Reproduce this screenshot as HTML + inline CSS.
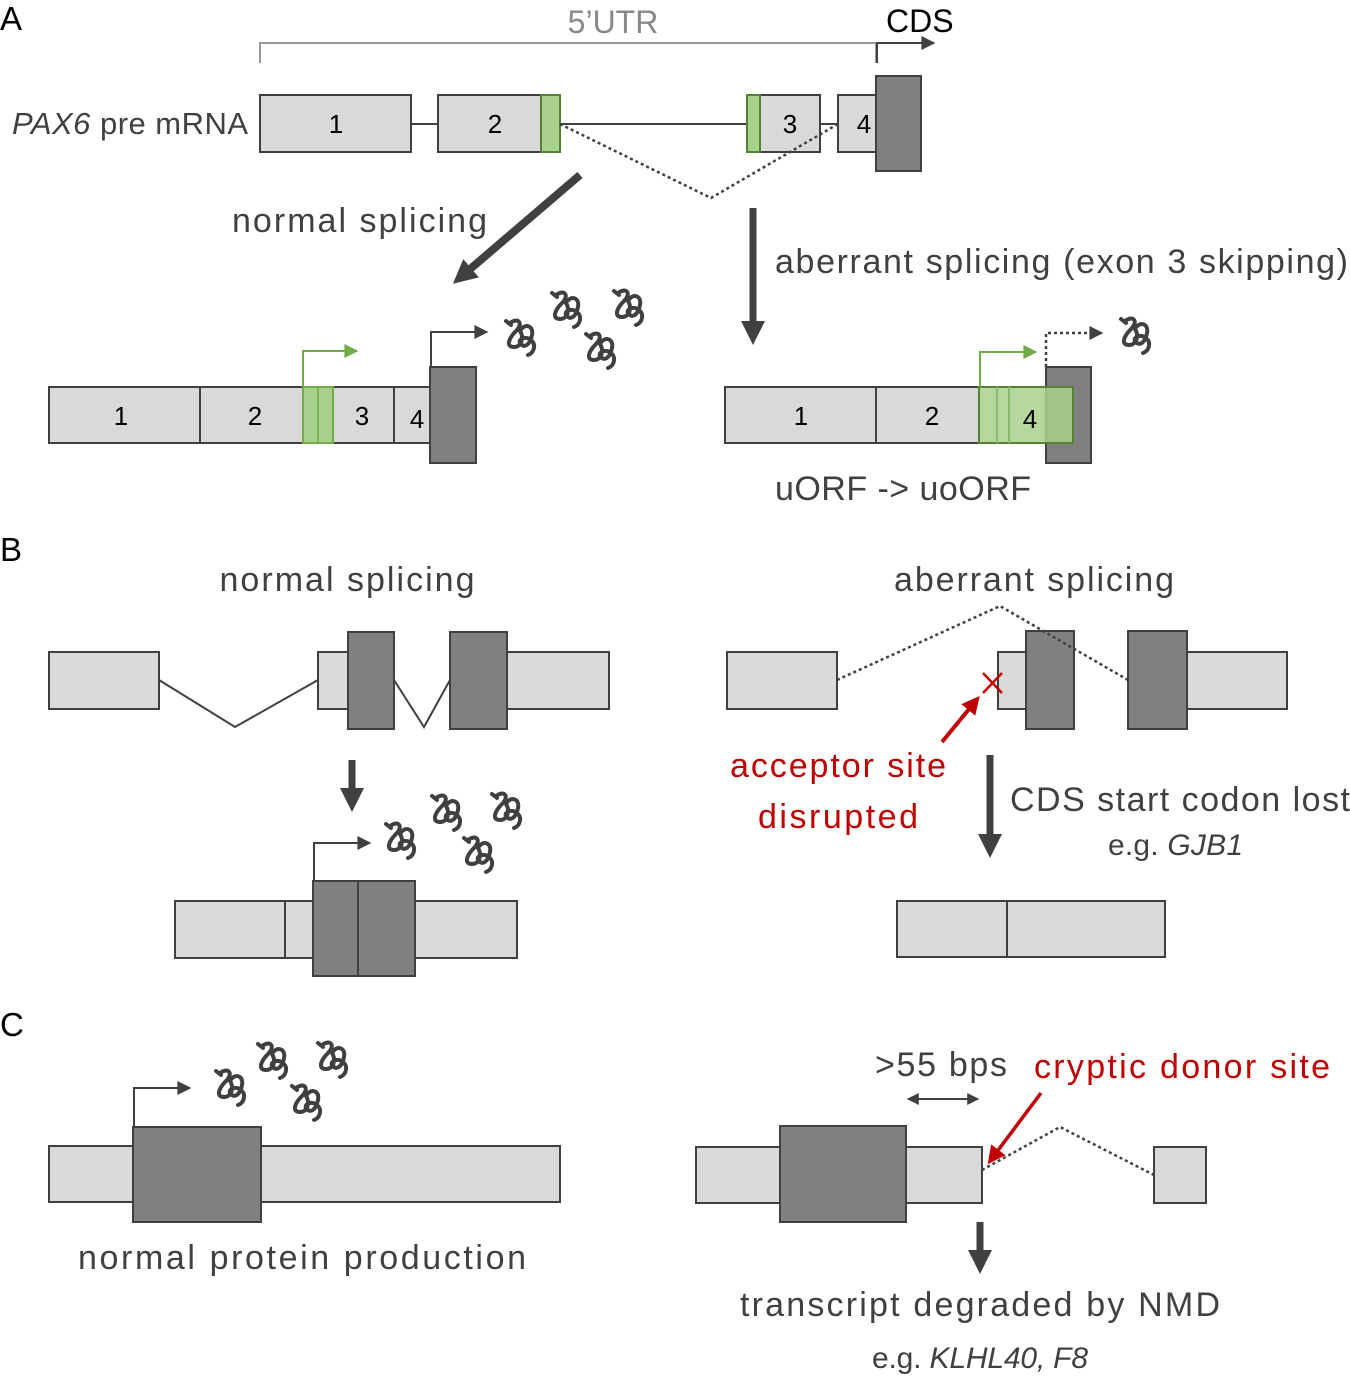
<!DOCTYPE html>
<html><head><meta charset="utf-8"><style>
html,body{margin:0;padding:0;background:#fff;}
svg text{font-family:"Liberation Sans",sans-serif;}
</style></head><body>
<svg width="1350" height="1375" viewBox="0 0 1350 1375" xmlns="http://www.w3.org/2000/svg">
<defs>
<marker id="ahk" viewBox="0 0 10 10" markerWidth="16" markerHeight="14" refX="9" refY="5" orient="auto" markerUnits="userSpaceOnUse"><path d="M0,0 L10,5 L0,10 z" fill="#404040"/></marker>
<marker id="ahg" viewBox="0 0 10 10" markerWidth="16" markerHeight="14" refX="9" refY="5" orient="auto" markerUnits="userSpaceOnUse"><path d="M0,0 L10,5 L0,10 z" fill="#70ad47"/></marker>
<marker id="ahb" viewBox="0 0 10 10" markerWidth="24" markerHeight="26" refX="5" refY="5" orient="auto" markerUnits="userSpaceOnUse"><path d="M0,0 L10,5 L0,10 z" fill="#404040"/></marker>
<marker id="ahr" viewBox="0 0 10 10" markerWidth="18" markerHeight="18" refX="5" refY="5" orient="auto" markerUnits="userSpaceOnUse"><path d="M0,0 L10,5 L0,10 z" fill="#c00000"/></marker>
<marker id="ahs" viewBox="0 0 10 10" markerWidth="12" markerHeight="12" refX="9" refY="5" orient="auto-start-reverse" markerUnits="userSpaceOnUse"><path d="M0,0 L10,5 L0,10 z" fill="#404040"/></marker>
<g id="p" fill="none" stroke="#404040" stroke-width="4" stroke-linecap="round" stroke-linejoin="round">
<path d="M-16,-14 l5,4 M-12,-12 c8,-6 14,0 6,8 c-8,8 -10,16 -2,16 c8,0 10,-10 6,-16 c4,-8 14,-6 12,4 c-2,10 -8,14 -12,8 c-2,-4 6,-8 12,-2 c4,4 2,12 -4,14"/>
</g>
</defs>
<g font-size="33" fill="#000">
<text x="0" y="30">A</text>
<text x="0" y="561">B</text>
<text x="0" y="1036">C</text>
</g>
<path d="M260,63 V43 H876 V63" fill="none" stroke="#999" stroke-width="2"/>
<text x="613" y="33" font-size="32" fill="#888" text-anchor="middle">5’UTR</text>
<text x="886" y="32" font-size="32" fill="#000">CDS</text>
<path d="M877,63 V43 H934" fill="none" stroke="#404040" stroke-width="2" marker-end="url(#ahk)"/>
<text x="248" y="134" font-size="31" fill="#404040" text-anchor="end" textLength="236"><tspan font-style="italic">PAX6</tspan> pre mRNA</text>
<g stroke="#404040" stroke-width="2" fill="#d9d9d9">
<line x1="411" y1="124" x2="438" y2="124"/>
<line x1="560" y1="124" x2="747" y2="124"/>
<line x1="820" y1="124" x2="838" y2="124"/>
<rect x="260" y="95" width="151" height="57"/>
<rect x="438" y="95" width="122" height="57"/>
<rect x="747" y="95" width="73" height="57"/>
<rect x="838" y="95" width="38" height="57"/>
<rect x="876" y="76" width="45" height="95" fill="#808080"/>
</g>
<rect x="541" y="95" width="19" height="57" fill="#a9d18e" stroke="#548235" stroke-width="2"/>
<rect x="747" y="95" width="13" height="57" fill="#a9d18e" stroke="#548235" stroke-width="2"/>
<path d="M560,124 L711,198 L838,124" fill="none" stroke="#404040" stroke-width="2.5" stroke-dasharray="3,3"/>
<g font-size="26" fill="#000" text-anchor="middle">
<text x="336" y="133">1</text><text x="495" y="133">2</text><text x="790" y="133">3</text><text x="864" y="133">4</text>
</g>
<line x1="580" y1="175" x2="462" y2="276" stroke="#404040" stroke-width="8" marker-end="url(#ahb)"/>
<text x="232" y="232" font-size="34" fill="#404040" textLength="255">normal splicing</text>
<line x1="753" y1="208" x2="753" y2="333" stroke="#404040" stroke-width="7" marker-end="url(#ahb)"/>
<text x="775" y="273" font-size="34" fill="#404040" textLength="573">aberrant splicing (exon 3 skipping)</text>
<g stroke="#404040" stroke-width="2" fill="#d9d9d9">
<rect x="49" y="387" width="151" height="56"/>
<rect x="200" y="387" width="103" height="56"/>
<rect x="333" y="387" width="61" height="56"/>
<rect x="394" y="387" width="36" height="56"/>
<rect x="430" y="367" width="46" height="96" fill="#808080"/>
</g>
<rect x="303" y="387" width="30" height="56" fill="#a9d18e" stroke="#70ad47" stroke-width="2"/>
<line x1="318" y1="387" x2="318" y2="443" stroke="#70ad47" stroke-width="1.5"/>
<g font-size="26" fill="#000" text-anchor="middle">
<text x="121" y="425">1</text><text x="255" y="425">2</text><text x="362" y="425">3</text><text x="417" y="428">4</text>
</g>
<path d="M303,387 V351 H357" fill="none" stroke="#70ad47" stroke-width="2" marker-end="url(#ahg)"/>
<path d="M431,367 V332 H487" fill="none" stroke="#404040" stroke-width="2" marker-end="url(#ahk)"/>
<use href="#p" x="522" y="335"/><use href="#p" x="568" y="307"/><use href="#p" x="630" y="305"/><use href="#p" x="602" y="348"/>
<g stroke="#404040" stroke-width="2" fill="#d9d9d9">
<rect x="725" y="387" width="151" height="56"/>
<rect x="876" y="387" width="103" height="56"/>
<rect x="1046" y="367" width="45" height="96" fill="#808080"/>
</g>
<rect x="979" y="387" width="94" height="56" fill="#a9d18e" fill-opacity="0.85" stroke="#548235" stroke-width="2"/>
<line x1="997" y1="387" x2="997" y2="443" stroke="#8bb870" stroke-width="2"/>
<line x1="1009" y1="387" x2="1009" y2="443" stroke="#8bb870" stroke-width="2"/>
<g font-size="26" fill="#000" text-anchor="middle">
<text x="801" y="425">1</text><text x="932" y="425">2</text><text x="1030" y="428">4</text>
</g>
<path d="M980,387 V352 H1036" fill="none" stroke="#70ad47" stroke-width="2" marker-end="url(#ahg)"/>
<path d="M1046,367 V333 H1102" fill="none" stroke="#404040" stroke-width="2.5" stroke-dasharray="3,3" marker-end="url(#ahk)"/>
<use href="#p" x="1137" y="333"/>
<text x="775" y="500" font-size="34" fill="#404040" textLength="256">uORF -&gt; uoORF</text>
<text x="347" y="591" font-size="34" fill="#404040" text-anchor="middle" textLength="255">normal splicing</text>
<path d="M159,680 L235,727 L318,680 M394,680 L424,727 L450,680" fill="none" stroke="#404040" stroke-width="2"/>
<g stroke="#404040" stroke-width="2" fill="#d9d9d9">
<rect x="49" y="652" width="110" height="57"/>
<rect x="318" y="652" width="30" height="57"/>
<rect x="507" y="652" width="102" height="57"/>
<rect x="348" y="632" width="46" height="97" fill="#808080"/>
<rect x="450" y="632" width="57" height="97" fill="#808080"/>
</g>
<line x1="352" y1="760" x2="352" y2="800" stroke="#404040" stroke-width="7" marker-end="url(#ahb)"/>
<g stroke="#404040" stroke-width="2" fill="#d9d9d9">
<rect x="175" y="901" width="110" height="57"/>
<rect x="285" y="901" width="28" height="57"/>
<rect x="415" y="901" width="102" height="57"/>
<rect x="313" y="881" width="45" height="95" fill="#808080"/>
<rect x="358" y="881" width="57" height="95" fill="#808080"/>
</g>
<path d="M314,881 V843 H370" fill="none" stroke="#404040" stroke-width="2" marker-end="url(#ahk)"/>
<use href="#p" x="402" y="838"/><use href="#p" x="448" y="810"/><use href="#p" x="508" y="808"/><use href="#p" x="480" y="852"/>
<text x="1034" y="591" font-size="34" fill="#404040" text-anchor="middle" textLength="280">aberrant splicing</text>
<g stroke="#404040" stroke-width="2" fill="#d9d9d9">
<rect x="727" y="652" width="110" height="57"/>
<rect x="998" y="652" width="28" height="57"/>
<rect x="1187" y="652" width="100" height="57"/>
<rect x="1026" y="631" width="48" height="98" fill="#808080"/>
<rect x="1128" y="631" width="59" height="98" fill="#808080"/>
</g>
<path d="M837,680 L1000,606 L1128,680" fill="none" stroke="#404040" stroke-width="2.5" stroke-dasharray="3,3"/>
<path d="M983,673 L1002,693 M1002,673 L983,693" stroke="#c00000" stroke-width="2.5"/>
<line x1="942" y1="742" x2="974" y2="703" stroke="#c00000" stroke-width="4" marker-end="url(#ahr)"/>
<text x="838" y="777" font-size="34" fill="#c00000" text-anchor="middle" textLength="216">acceptor site</text>
<text x="838" y="828" font-size="34" fill="#c00000" text-anchor="middle" textLength="160">disrupted</text>
<line x1="990" y1="755" x2="990" y2="846" stroke="#404040" stroke-width="7" marker-end="url(#ahb)"/>
<text x="1010" y="811" font-size="34" fill="#404040" textLength="340">CDS start codon lost</text>
<text x="1243" y="855" font-size="30" fill="#404040" text-anchor="end" textLength="135">e.g. <tspan font-style="italic">GJB1</tspan></text>
<g stroke="#404040" stroke-width="2" fill="#d9d9d9">
<rect x="897" y="901" width="110" height="56"/>
<rect x="1007" y="901" width="158" height="56"/>
</g>
<g stroke="#404040" stroke-width="2" fill="#d9d9d9">
<rect x="49" y="1146" width="84" height="56"/>
<rect x="261" y="1146" width="299" height="56"/>
<rect x="133" y="1127" width="128" height="95" fill="#808080"/>
</g>
<path d="M134,1127 V1088 H190" fill="none" stroke="#404040" stroke-width="2" marker-end="url(#ahk)"/>
<use href="#p" x="232" y="1085"/><use href="#p" x="274" y="1058"/><use href="#p" x="334" y="1057"/><use href="#p" x="308" y="1100"/>
<text x="302" y="1269" font-size="34" fill="#404040" text-anchor="middle" textLength="448">normal protein production</text>
<g stroke="#404040" stroke-width="2" fill="#d9d9d9">
<rect x="696" y="1147" width="84" height="56"/>
<rect x="906" y="1147" width="76" height="56"/>
<rect x="1154" y="1147" width="52" height="56"/>
<rect x="780" y="1126" width="126" height="96" fill="#808080"/>
</g>
<path d="M982,1170 L1060,1127 L1154,1175" fill="none" stroke="#404040" stroke-width="2.5" stroke-dasharray="3,3"/>
<text x="941" y="1076" font-size="34" fill="#404040" text-anchor="middle" textLength="132">&gt;55 bps</text>
<line x1="908" y1="1099" x2="978" y2="1099" stroke="#404040" stroke-width="2" marker-start="url(#ahs)" marker-end="url(#ahs)"/>
<text x="1034" y="1078" font-size="34" fill="#c00000" textLength="296">cryptic donor site</text>
<line x1="1041" y1="1093" x2="993" y2="1157" stroke="#c00000" stroke-width="3.5" marker-end="url(#ahr)"/>
<line x1="980" y1="1222" x2="980" y2="1262" stroke="#404040" stroke-width="7" marker-end="url(#ahb)"/>
<text x="980" y="1316" font-size="34" fill="#404040" text-anchor="middle" textLength="480">transcript degraded by NMD</text>
<text x="980" y="1368" font-size="30" fill="#404040" text-anchor="middle" textLength="216">e.g. <tspan font-style="italic">KLHL40, F8</tspan></text>
</svg>
</body></html>
